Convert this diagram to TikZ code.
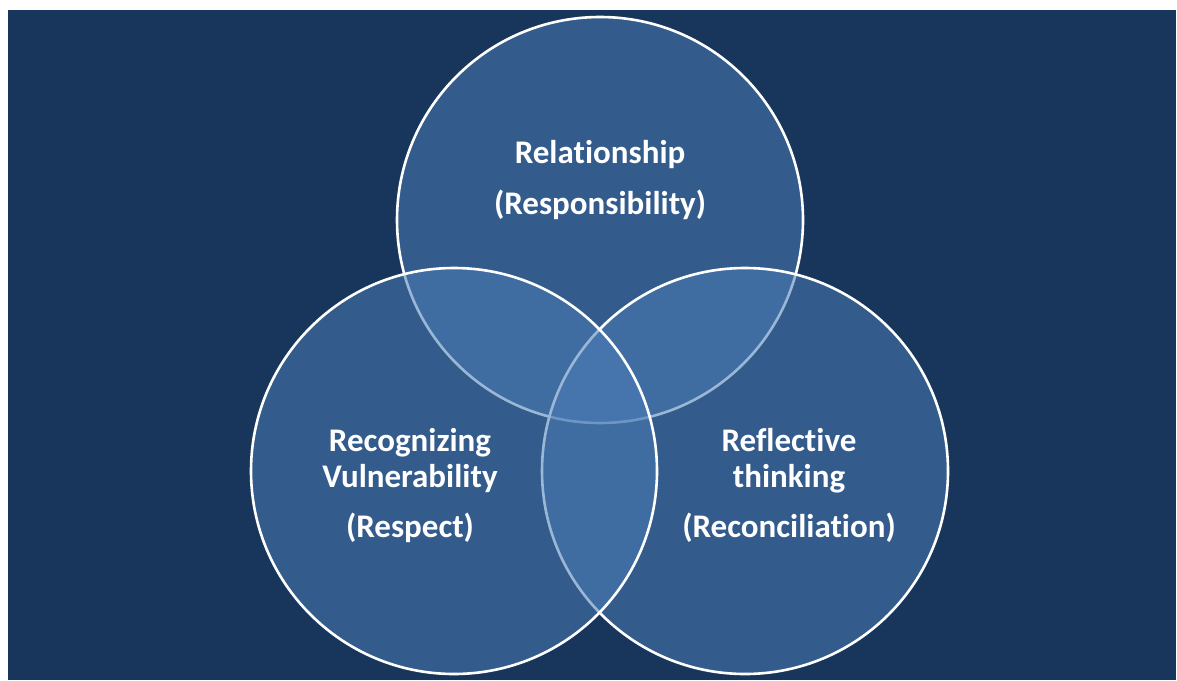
\documentclass[tikz,border=0pt]{standalone}
\usepackage{fontspec}
\setmainfont[RawFeature={-liga}]{Carlito}
\definecolor{navy}{RGB}{24,54,92}
\definecolor{ringblue}{RGB}{74,124,181}
\begin{document}
\begin{tikzpicture}[x=1pt,y=-1pt,
  ring/.style={draw=white,line width=2.6pt,fill=ringblue,fill opacity=0.55},
  label/.style={text=white,font=\bfseries\fontsize{33}{36}\selectfont,align=center,inner sep=0pt}]
  \useasboundingbox (0,0) rectangle (1177,680);
  \fill[white] (0,0) rectangle (1177,680);
  \fill[navy] (8,10) rectangle (1176,680);
  % three overlapping circles, drawn top, right, left
  \path[ring] (600,220) circle[radius=203];
  \path[ring] (745,471) circle[radius=203];
  \path[ring] (454,471) circle[radius=203];
  % circle labels
  \node[label] (top) at (600,155) {Relationship};
  \node[label] (topsub) at (600,205) {(Responsibility)};
  \node[label] (left) at (410,461) {Recognizing\\Vulnerability};
  \node[label] (leftsub) at (410,528) {(Respect)};
  \node[label] (right) at (789,461) {Reflective\\thinking};
  \node[label] (rightsub) at (789,528) {(Reconciliation)};
\end{tikzpicture}
\end{document}
